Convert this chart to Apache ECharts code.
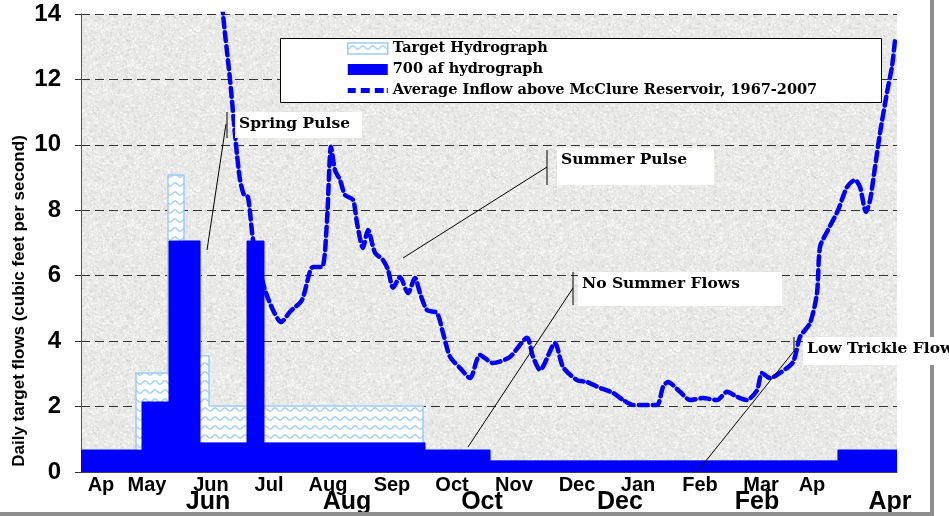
<!DOCTYPE html>
<html>
<head>
<meta charset="utf-8">
<script src="https://cdn.jsdelivr.net/npm/echarts@6/dist/echarts.min.js"></script>
<style>
html, body { margin: 0; padding: 0; background: #fff; }
#chart { width: 949px; height: 516px; }
</style>
</head>
<body>
<div id="chart"></div>
<script>
// x = days counted from 1 April
var monthPos = [10, 33, 65, 94, 123.5, 155.5, 185.5, 216.5, 248, 278.5, 309.5, 340, 365.5];
var monthNames = ['Ap', 'May', 'Jun', 'Jul', 'Aug', 'Sep', 'Oct', 'Nov', 'Dec', 'Jan', 'Feb', 'Mar', 'Ap'];
var bigPos = [63.5, 133, 200.5, 269.5, 338, 404.5];
var bigNames = ['Jun', 'Aug', 'Oct', 'Dec', 'Feb', 'Apr'];

// Target Hydrograph: day each level starts, level (cfs)
var targetDay = [0, 27.5, 43.5, 51.5, 59.5, 64, 171, 204.5, 378.5, 408];
var targetFlow = [0.67, 3.03, 9.08, 7.06, 3.55, 2.02, 0.67, 0.34, 0.67, 0.67];

// 700 af hydrograph
var afDay = [0, 30.5, 44, 59.5, 83, 91.5, 172, 204.5, 378.5, 408];
var afFlow = [0.67, 2.14, 7.06, 0.89, 7.06, 0.89, 0.67, 0.34, 0.67, 0.67];

// Average Inflow above McClure Reservoir, 1967-2007
var inflowDay = [68.5, 71, 74.5, 77.5, 79.5, 81.5, 83.5, 86, 89, 92, 96, 100, 104.5, 110.5, 116, 120.5, 123, 125,
  127, 129.5, 132, 136, 138, 141, 143.5, 147, 151, 153.5, 156, 159.5, 163.5, 167, 169.5, 173, 178, 181, 184.5,
  189.5, 194.5, 199.5, 206, 214.5, 223, 226, 229.5, 237, 241, 248, 253, 259.5, 266, 271, 276, 281, 288, 291,
  293.5, 299.5, 304.5, 311, 318, 323, 328, 333, 338, 340.5, 344.5, 349.5, 356, 359.5, 364.5, 368, 369.5, 373.5,
  378.5, 383, 387, 389.5, 392.5, 394.5, 397, 399.5, 403, 405.5, 407];
var inflowFlow = [16, 14, 12, 10, 8.93, 8.47, 8.4, 7.1, 6.3, 5.56, 4.95, 4.58, 4.9, 5.26, 6.27, 6.27, 7.7, 9.94,
  9.23, 8.93, 8.47, 8.32, 7.61, 6.85, 7.4, 6.7, 6.48, 6.18, 5.63, 5.96, 5.47, 5.93, 5.47, 4.95, 4.86, 4.25, 3.52,
  3.18, 2.87, 3.58, 3.33, 3.52, 4.1, 3.52, 3.12, 3.94, 3.21, 2.81, 2.75, 2.57, 2.42, 2.2, 2.05, 2.05, 2.05, 2.6,
  2.75, 2.45, 2.2, 2.26, 2.2, 2.45, 2.3, 2.2, 2.5, 3.03, 2.87, 3.03, 3.36, 4.13, 4.55, 5.47, 6.88, 7.4,
  8.0, 8.71, 8.93, 8.71, 7.95, 8.3, 9.32, 10.36, 11.6, 12.4, 13.2];

function pairs(xs, ys) {
  var out = [];
  for (var i = 0; i < xs.length; i++) out.push([xs[i], ys[i]]);
  return out;
}

// granite-like background of the plot
function makeTexture() {
  var c = document.createElement('canvas');
  c.width = 160; c.height = 160;
  var g = c.getContext('2d');
  g.fillStyle = '#e9e9e7';
  g.fillRect(0, 0, 160, 160);
  var s = 20240;
  function next() { s = (Math.imul(s, 1103515245) + 12345) >>> 0; return s / 4294967296; }
  for (var i = 0; i < 6000; i++) {
    var x = next() * 160, y = next() * 160;
    var v = next() < 0.5 ? 212 + Math.floor(next() * 20) : 240 + Math.floor(next() * 15);
    g.fillStyle = 'rgb(' + v + ',' + v + ',' + (v - 2) + ')';
    g.fillRect(x, y, 1 + next(), 1 + next());
  }
  return c;
}

// wavy fill of the target hydrograph
function makeWaves() {
  var c = document.createElement('canvas');
  c.width = 10; c.height = 9;
  var g = c.getContext('2d');
  g.fillStyle = '#ffffff';
  g.fillRect(0, 0, 10, 9);
  g.strokeStyle = '#9ccbf8';
  g.lineWidth = 1.3;
  g.beginPath();
  for (var x = -1; x <= 11; x += 0.5) {
    var y = 4.5 + 1.7 * Math.cos(x / 10 * 2 * Math.PI);
    if (x === -1) g.moveTo(x, y); else g.lineTo(x, y);
  }
  g.stroke();
  return c;
}

var wavePattern = { image: makeWaves(), repeat: 'repeat' };
var serif = "'DejaVu Serif', serif";
var sans = "'Liberation Sans', Arial, sans-serif";

function callout(box, text, bar, lead) {
  return [
    { type: 'rect', z: 100, shape: box, style: { fill: '#fff' } },
    { type: 'text', z: 101, x: box.x + 4, y: box.y + 12,
      style: { text: text, font: 'bold 15.5px ' + serif, fill: '#000', verticalAlign: 'middle' } },
    { type: 'line', z: 101, shape: { x1: bar[0], y1: bar[1], x2: bar[0], y2: bar[2] },
      style: { stroke: '#000', lineWidth: 1 } },
    { type: 'line', z: 101, shape: { x1: lead[0], y1: lead[1], x2: lead[2], y2: lead[3] },
      style: { stroke: '#000', lineWidth: 1 } }
  ];
}

var graphics = [
  { type: 'rect', z: 50, shape: { x: 930, y: 0, width: 4, height: 516 }, style: { fill: '#8e8e8e' } },
  { type: 'rect', z: 50, shape: { x: 0, y: 512, width: 934, height: 4 }, style: { fill: '#8e8e8e' } },
  { type: 'rect', z: 100, shape: { x: 280.5, y: 38.5, width: 601, height: 64 },
    style: { fill: '#fff', stroke: '#000', lineWidth: 1 } },
  { type: 'text', z: 100, x: 19, y: 301, rotation: Math.PI / 2,
    style: { text: 'Daily target flows (cubic feet per second)', font: 'bold 17px ' + sans,
      fill: '#000', align: 'center', verticalAlign: 'middle' } }
]
  .concat(callout({ x: 235, y: 112, width: 127, height: 26 }, 'Spring Pulse', [227, 112, 138], [226, 124, 207, 250]))
  .concat(callout({ x: 557, y: 148, width: 157, height: 37 }, 'Summer Pulse', [547, 150, 185], [547, 167, 403, 258]))
  .concat(callout({ x: 578, y: 272, width: 204, height: 34 }, 'No Summer Flows', [573, 272, 305], [573, 288, 468, 447]))
  .concat(callout({ x: 803, y: 337, width: 146, height: 28 }, 'Low Trickle Flows', [794, 337, 352], [794, 351, 697, 472]));

var chart = echarts.init(document.getElementById('chart'));
chart.setOption({
  animation: false,
  backgroundColor: '#fff',
  grid: {
    left: 81, right: 52, top: 14, bottom: 44,
    show: true, borderWidth: 0,
    backgroundColor: { image: makeTexture(), repeat: 'repeat' }
  },
  legend: {
    orient: 'vertical', left: 347, top: 41, z: 120, padding: 0,
    itemWidth: 40, itemHeight: 11, itemGap: 6,
    selectedMode: false,
    textStyle: { fontFamily: serif, fontWeight: 'bold', fontSize: 14.5, color: '#000' },
    data: [
      { name: 'Target Hydrograph', icon: 'rect',
        itemStyle: { color: wavePattern, borderColor: '#9ccbf8', borderWidth: 1.5 } },
      { name: '700 af hydrograph', icon: 'rect', itemStyle: { color: '#0000ff', borderWidth: 0 } },
      { name: 'Average Inflow above McClure Reservoir, 1967-2007',
        icon: 'path://M0,0h0.01v0.01h-0.01z M0,3h8v5h-8z M13,3h9v5h-9z M27,3h9v5h-9z M39,3h1v5h-1z M39.99,10.99h0.01v0.01h-0.01z',
        itemStyle: { color: '#0000ff', borderWidth: 0 } }
    ]
  },
  xAxis: [{
    type: 'value', min: 0, max: 408,
    axisLine: { show: true, lineStyle: { color: '#444', width: 1 } },
    axisTick: { show: false },
    splitLine: { show: false },
    axisLabel: {
      customValues: monthPos, margin: 3,
      fontFamily: sans, fontWeight: 'bold', fontSize: 20, color: '#000',
      formatter: function (v) { return monthNames[monthPos.indexOf(v)]; }
    }
  }, {
    type: 'value', min: 0, max: 408, position: 'bottom',
    axisLine: { show: false }, axisTick: { show: false }, splitLine: { show: false },
    axisLabel: {
      customValues: bigPos, margin: 18,
      fontFamily: sans, fontWeight: 'bold', fontSize: 25, color: '#000',
      formatter: function (v) { return bigNames[bigPos.indexOf(v)]; }
    }
  }],
  yAxis: {
    type: 'value', min: 0, max: 14, interval: 2,
    axisLine: { show: true, lineStyle: { color: '#555', width: 1 } },
    axisTick: { show: true, length: 6, lineStyle: { color: '#333' } },
    axisLabel: { margin: 20, fontFamily: sans, fontWeight: 'bold', fontSize: 24, color: '#000' },
    splitLine: { show: true, lineStyle: { color: '#333', width: 1, type: [9, 5] } }
  },
  series: [{
    name: 'Target Hydrograph', type: 'line', step: 'end', symbol: 'none', z: 2,
    data: pairs(targetDay, targetFlow),
    lineStyle: { color: '#9ccbf8', width: 1.5 },
    itemStyle: { color: '#9ccbf8' },
    areaStyle: { color: wavePattern, opacity: 1 }
  }, {
    name: 'Average Inflow above McClure Reservoir, 1967-2007', type: 'line', symbol: 'none', z: 3,
    smooth: 0.25,
    data: pairs(inflowDay, inflowFlow),
    lineStyle: { color: '#0000ff', width: 4.5, type: [9, 5], cap: 'round' },
    itemStyle: { color: '#0000ff' }
  }, {
    name: '700 af hydrograph', type: 'line', step: 'end', symbol: 'none', z: 4,
    data: pairs(afDay, afFlow),
    lineStyle: { color: '#0000ff', width: 1 },
    itemStyle: { color: '#0000ff' },
    areaStyle: { color: '#0000ff', opacity: 1 }
  }],
  graphic: graphics
});
</script>
</body>
</html>
